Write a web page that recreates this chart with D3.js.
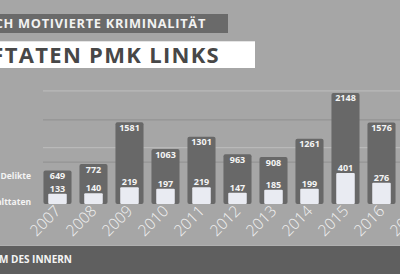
<!DOCTYPE html>
<html>
<head>
<meta charset="utf-8">
<script src="https://cdn.jsdelivr.net/npm/d3@7"></script>
<style>
body { margin: 0; background: #a6a6a6; }
svg { display: block; font-family: "Open Sans", "DejaVu Sans", sans-serif; }
</style>
</head>
<body>
<div id="chart"></div>
<script>
var years = ["2007", "2008", "2009", "2010", "2011", "2012", "2013", "2014", "2015", "2016", "2017"];
var delikte = [649, 772, 1581, 1063, 1301, 963, 908, 1261, 2148, 1576];
var gewalttaten = [133, 140, 219, 197, 219, 147, 185, 199, 401, 276];
var delikteTicks = [1100, 2200];
var gewaltTicks = [550, 1100];

var w = 400, h = 274;
var base = 204;

var svg = d3.select("#chart").append("svg").attr("width", w).attr("height", h);

svg.append("rect").attr("width", w).attr("height", h).attr("fill", "#a6a6a6");

var x = d3.scaleBand().domain(years).range([39.5, 435.5]).paddingInner(0.22).paddingOuter(0.11);
var yD = d3.scaleLinear().domain([0, 2200]).range([base, 90.3]);
var yG = d3.scaleLinear().domain([0, 1100]).range([base, 119.3]);

// gridlines, one set per axis
svg.append("g")
	.attr("transform", "translate(43,0)")
	.call(d3.axisLeft(yD).tickValues(delikteTicks).tickSize(-(w - 43)).tickFormat(""))
	.call(function(g){
		g.select(".domain").remove();
		g.selectAll("line").attr("stroke", "#b9b9b9").attr("stroke-width", 1.2);
	});

svg.append("g")
	.attr("transform", "translate(43,0)")
	.call(d3.axisLeft(yG).tickValues(gewaltTicks).tickSize(-(w - 43)).tickFormat(""))
	.call(function(g){
		g.select(".domain").remove();
		g.selectAll("line").attr("stroke", "#939393").attr("stroke-width", 1.2);
	});

var dataD = delikte.map(function(v, i){ return {year: years[i], v: v}; });
var dataG = gewalttaten.map(function(v, i){ return {year: years[i], v: v}; });

svg.append("g").selectAll("rect")
	.data(dataD)
	.enter()
	.append("rect")
	.attr("x", function(d){ return x(d.year); })
	.attr("width", x.bandwidth())
	.attr("y", function(d){ return yD(d.v); })
	.attr("height", function(d){ return base - yD(d.v); })
	.attr("rx", 2)
	.attr("fill", "#686868");

var lw = x.bandwidth() * 0.66;
svg.append("g").selectAll("rect")
	.data(dataG)
	.enter()
	.append("rect")
	.attr("x", function(d){ return x(d.year) + (x.bandwidth() - lw) / 2; })
	.attr("width", lw)
	.attr("y", function(d){ return yG(d.v); })
	.attr("height", function(d){ return base - yG(d.v); })
	.attr("rx", 1)
	.attr("fill", "#e9ebf2");

svg.append("g").selectAll("text")
	.data(dataD)
	.enter()
	.append("text")
	.attr("x", function(d){ return x(d.year) + x.bandwidth() / 2; })
	.attr("y", function(d){ return yD(d.v) + 8.5; })
	.attr("text-anchor", "middle")
	.attr("font-size", 9)
	.attr("font-weight", "bold")
	.attr("fill", "#f4f4f4")
	.text(function(d){ return d.v; });

svg.append("g").selectAll("text")
	.data(dataG)
	.enter()
	.append("text")
	.attr("x", function(d){ return x(d.year) + x.bandwidth() / 2; })
	.attr("y", function(d){ return yG(d.v) - 1.8; })
	.attr("text-anchor", "middle")
	.attr("font-size", 9)
	.attr("font-weight", "bold")
	.attr("fill", "#f4f4f4")
	.text(function(d){ return d.v; });

// series labels on the left
svg.append("text").attr("x", 31).attr("y", 178.5).attr("text-anchor", "end")
	.attr("font-size", 8.5).attr("font-weight", "bold").attr("fill", "#f4f4f4").text("Delikte");
svg.append("text").attr("x", 31).attr("y", 204.5).attr("text-anchor", "end")
	.attr("font-size", 8.5).attr("font-weight", "bold").attr("fill", "#f4f4f4").text("Gewalttaten");

// year axis
svg.append("g")
	.attr("transform", "translate(0," + base + ")")
	.call(d3.axisBottom(x).tickSize(0).tickPadding(0))
	.call(function(g){
		g.select(".domain").remove();
		g.selectAll("text")
			.attr("font-family", "\"Open Sans\", sans-serif")
			.attr("font-size", 15.5)
			.attr("font-weight", 300)
			.attr("fill", "#f2f2f2")
			.attr("text-anchor", "end")
			.attr("dy", 0)
			.attr("transform", "translate(4,8) rotate(-45)");
	});

// footer
svg.append("rect").attr("x", 0).attr("y", 246).attr("width", w).attr("height", h - 246).attr("fill", "#5f5f5f");
svg.append("line").attr("x1", 0).attr("x2", w).attr("y1", 245.5).attr("y2", 245.5).attr("stroke", "#b0b0b0");
svg.append("text").attr("x", 72).attr("y", 263).attr("text-anchor", "end")
	.attr("font-size", 10).attr("font-weight", "bold").attr("fill", "#f4f4f4")
	.text("QUELLE: BUNDESMINISTERIUM DES INNERN");

// header
svg.append("rect").attr("x", 0).attr("y", 14).attr("width", 228).attr("height", 19).attr("fill", "#6a6a6a");
svg.append("text").attr("x", 206).attr("y", 28.3).attr("text-anchor", "end")
	.attr("font-size", 12.8).attr("font-weight", "bold").attr("letter-spacing", 0.7).attr("fill", "#f2f2f2")
	.text("POLITISCH MOTIVIERTE KRIMINALITÄT");
svg.append("rect").attr("x", 0).attr("y", 41.3).attr("width", 255).attr("height", 26.7).attr("fill", "#ffffff");
svg.append("text").attr("x", 220).attr("y", 62.5).attr("text-anchor", "end")
	.attr("font-size", 22).attr("font-weight", "bold").attr("letter-spacing", 1.3).attr("fill", "#474747")
	.text("STRAFTATEN PMK LINKS");
</script>
</body>
</html>
